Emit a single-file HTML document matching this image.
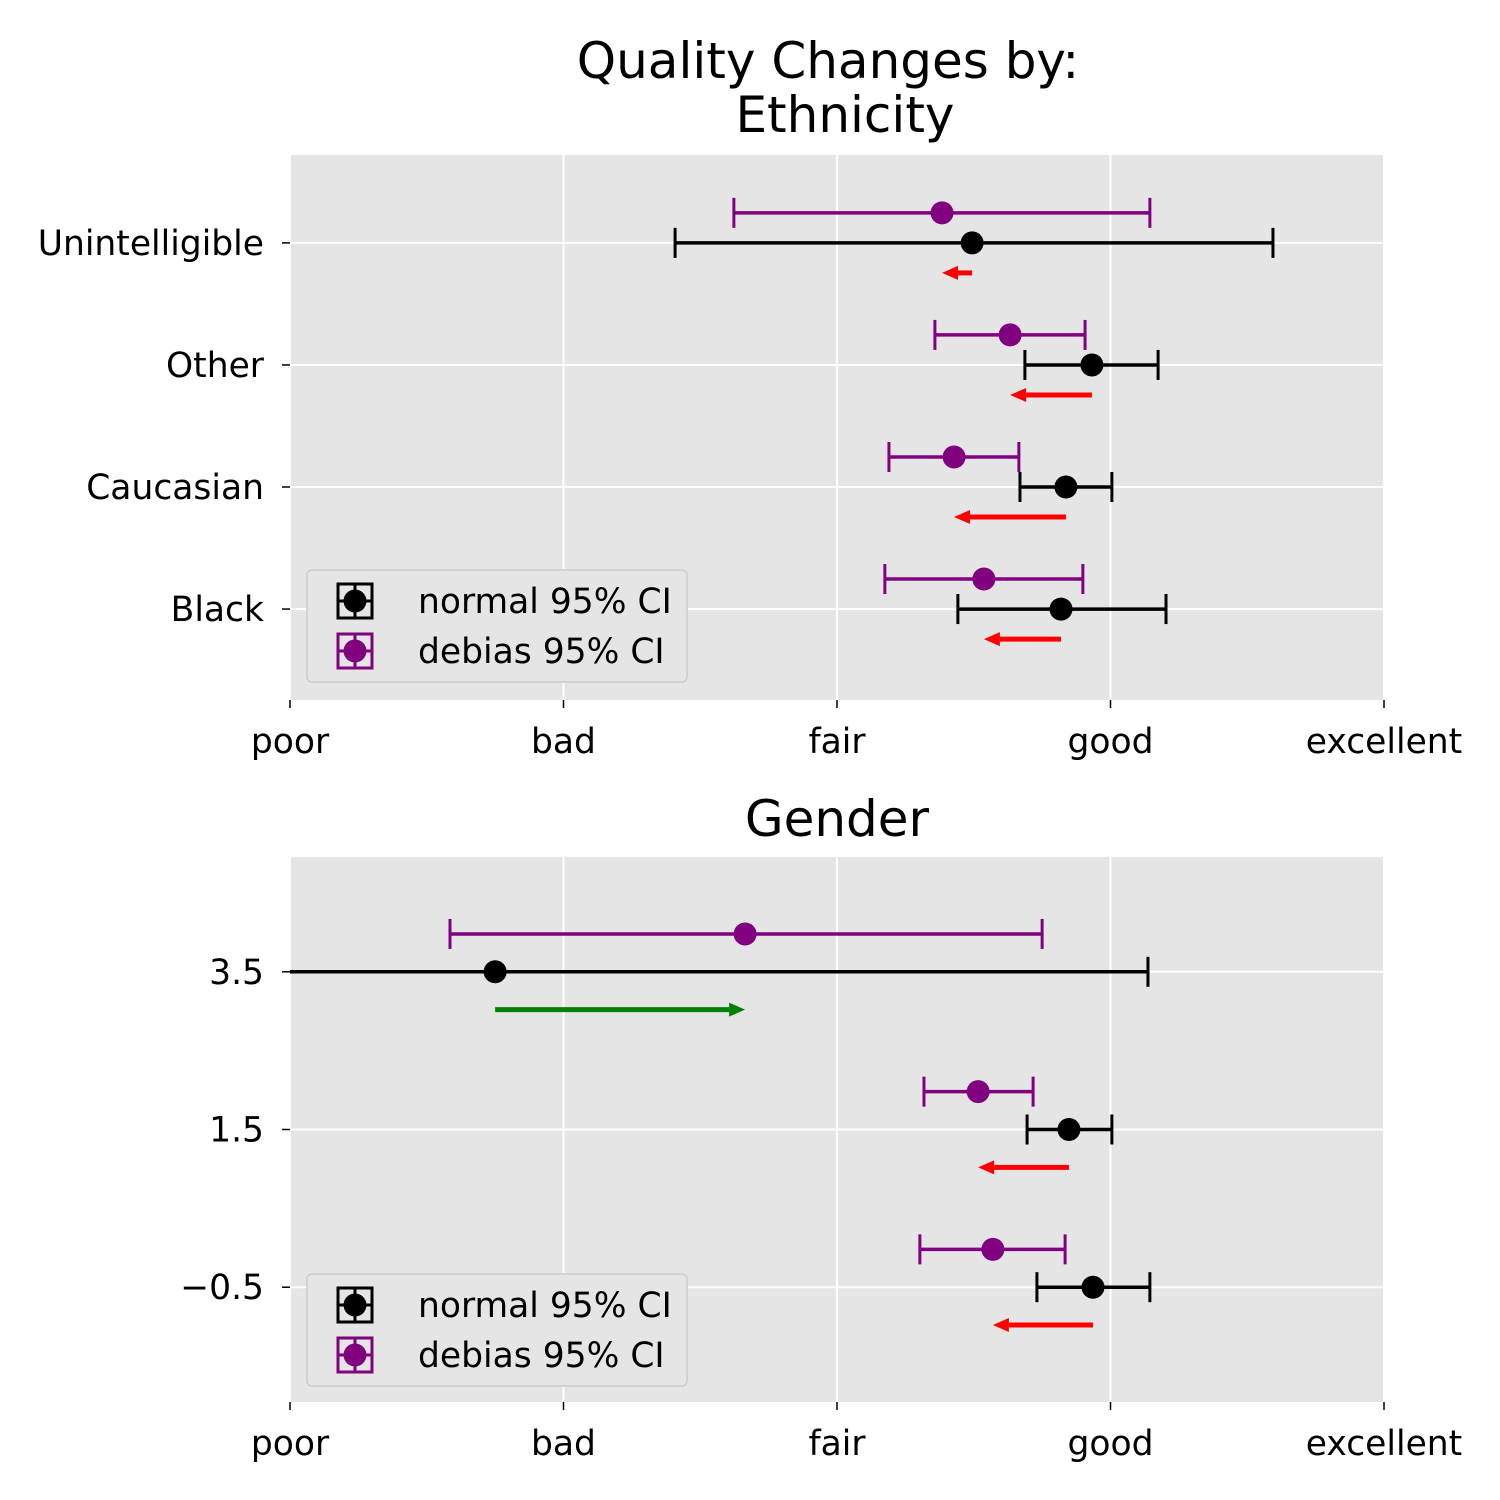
<!DOCTYPE html>
<html><head><meta charset="utf-8"><style>
html,body{margin:0;padding:0;background:#fff}
svg{display:block;font-family:"DejaVu Sans","Liberation Sans",sans-serif}
</style></head><body>
<svg id="chart" width="1500" height="1500" viewBox="0 0 1500 1500" xmlns="http://www.w3.org/2000/svg"></svg>
<script>
// Top panel (Ethnicity)
const ethCategories = ["Black","Caucasian","Other","Unintelligible"];
const ethNormal = [3.819,3.837,3.932,3.494];
const ethNormalLo = [3.442,3.669,3.687,2.408];
const ethNormalHi = [4.203,4.005,4.174,4.594];
const ethDebias = [3.537,3.428,3.633,3.384];
const ethDebiasLo = [3.175,3.190,3.358,2.623];
const ethDebiasHi = [3.899,3.665,3.907,4.144];
// Bottom panel (Gender)
const genPositions = [-0.5,1.5,3.5];
const genTickLabels = ["\u22120.5","1.5","3.5"];
const genNormal = [3.936,3.848,1.750];
const genNormalLo = [3.731,3.695,-0.6];
const genNormalHi = [4.144,4.005,4.137];
const genDebias = [3.570,3.516,2.664];
const genDebiasLo = [3.303,3.318,1.585];
const genDebiasHi = [3.834,3.717,3.750];
const xTickValues = [1,2,3,4,5];
const xTickLabels = ["poor","bad","fair","good","excellent"];

const NS="http://www.w3.org/2000/svg";
const svg=document.getElementById('chart');
function mk(tag,attrs,parent){const e=document.createElementNS(NS,tag);for(const k in attrs)e.setAttribute(k,attrs[k]);(parent||svg).appendChild(e);return e;}

function panel(cfg){
  const L=290,R=1384,T=cfg.top,B=cfg.top+545;
  const xs=v=>L+(v-1)/4*(R-L);
  const ys=v=>B-(v-cfg.ymin)/(cfg.ymax-cfg.ymin)*(B-T);
  const g=mk('g',{});
  
  
  const bg=mk('rect',{x:L,y:T,width:R-L,height:B-T,fill:'#e5e5e5'},g);
  
  
  const clipId='clip-'+cfg.name;
  const cp=mk('clipPath',{id:clipId},g);mk('rect',{x:L,y:T,width:R-L,height:B-T},cp);
  xTickValues.forEach((v,i)=>{
    const x=xs(v);
    mk('line',{x1:x,x2:x,y1:T,y2:B,stroke:'#fff','stroke-width':2},g);
    mk('line',{x1:x,x2:x,y1:B,y2:B+8,stroke:'#000','stroke-width':1.5},g);
    const t=mk('text',{x:x,y:B+53,'text-anchor':'middle','font-size':34.5},g);t.textContent=xTickLabels[i];
    
    
  });
  cfg.ypos.forEach((p,i)=>{
    const y=ys(p);
    mk('line',{x1:L,x2:R,y1:y,y2:y,stroke:'#fff','stroke-width':2},g);
    mk('line',{x1:L-8,x2:L,y1:y,y2:y,stroke:'#000','stroke-width':1.5},g);
    const t=mk('text',{x:L-26,y:y+12,'text-anchor':'end','font-size':34.5},g);t.textContent=cfg.ylabels[i];
    
    
  });
  const d=mk('g',{'clip-path':'url(#'+clipId+')'},g);
  function eb(x,lo,hi,y,col,name){
    const e=mk('g',{},d);
    
    
    mk('line',{x1:xs(lo),x2:xs(hi),y1:y,y2:y,stroke:col,'stroke-width':3.5},e);
    [lo,hi].forEach(v=>mk('line',{x1:xs(v),x2:xs(v),y1:y-15,y2:y+15,stroke:col,'stroke-width':3},e));
    mk('circle',{cx:xs(x),cy:y,r:11.5,fill:col},e);
  }
  cfg.ypos.forEach((p,i)=>{
    eb(cfg.n[i],cfg.nlo[i],cfg.nhi[i],ys(p),'#000','normal-errorbar');
    eb(cfg.d[i],cfg.dlo[i],cfg.dhi[i],ys(p+cfg.off),'#800080','debias-errorbar');
    const y=ys(p-cfg.off), x0=xs(cfg.n[i]), x1=xs(cfg.d[i]);
    const dir=x1<x0?-1:1, col=dir<0?'#ff0000':'#008000';
    const hl=Math.min(16,Math.abs(x1-x0));
    const a=mk('g',{},d);
    
    
    mk('line',{x1:x0,x2:x1-dir*hl,y1:y,y2:y,stroke:col,'stroke-width':5},a);
    mk('polygon',{points:`${x1},${y} ${x1-dir*hl},${y-7} ${x1-dir*hl},${y+7}`,fill:col},a);
  });
  const lg=mk('g',{},g);
  
  
  const ly=cfg.legY;
  mk('rect',{x:307,y:ly,width:380,height:112,rx:5,fill:'#e5e5e5',stroke:'#cccccc','stroke-width':1.5},lg);
  [['normal 95% CI','#000',31],['debias 95% CI','#800080',81]].forEach(([lab,col,dy])=>{
    const cy=ly+dy,cx=355;
    mk('rect',{x:cx-17,y:cy-17,width:34,height:34,fill:'none',stroke:col,'stroke-width':3},lg);
    mk('line',{x1:cx-17,x2:cx+17,y1:cy,y2:cy,stroke:col,'stroke-width':3},lg);
    mk('line',{x1:cx,x2:cx,y1:cy-17,y2:cy+17,stroke:col,'stroke-width':3},lg);
    mk('circle',{cx:cx,cy:cy,r:11.5,fill:col},lg);
    const t=mk('text',{x:418,y:cy+12,'font-size':34.5},lg);t.textContent=lab;
    
    
  });
}
function title(lines){lines.forEach(([s,x,y])=>{const t=mk('text',{x:x,y:y,'text-anchor':'middle','font-size':50});t.textContent=s;
  
  });}
title([["Quality Changes by:",828,78],["Ethnicity",845,132],["Gender",837,836]]);
panel({name:'ethnicity-panel',top:155,ymin:-0.745,ymax:3.72,off:0.246,ypos:[0,1,2,3],ylabels:ethCategories,
  n:ethNormal,nlo:ethNormalLo,nhi:ethNormalHi,d:ethDebias,dlo:ethDebiasLo,dhi:ethDebiasHi,legY:570});
panel({name:'gender-panel',top:857,ymin:-1.956,ymax:4.956,off:0.48,ypos:genPositions,ylabels:genTickLabels,
  n:genNormal,nlo:genNormalLo,nhi:genNormalHi,d:genDebias,dlo:genDebiasLo,dhi:genDebiasHi,legY:1274});
</script>
</body></html>
